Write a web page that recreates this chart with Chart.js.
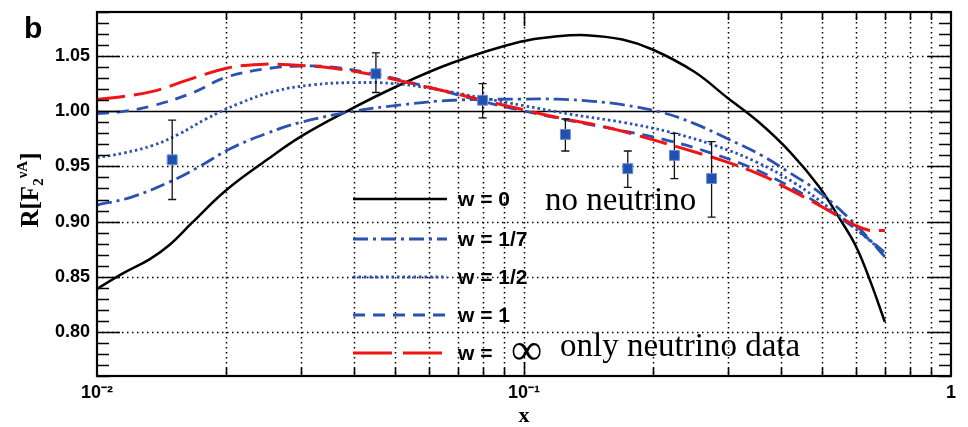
<!DOCTYPE html>
<html>
<head>
<meta charset="utf-8">
<script src="https://cdn.jsdelivr.net/npm/chart.js@4/dist/chart.umd.min.js"></script>
<style>
  html, body { margin: 0; padding: 0; background: #fff; }
  #wrap { width: 968px; height: 427px; }
</style>
</head>
<body>
<div id="wrap"><canvas id="chart"></canvas></div>
<script>
// w = 0 (no neutrino)
const xW0 = [0.01, 0.0115, 0.0133, 0.0148, 0.0167, 0.020, 0.025, 0.030, 0.038, 0.050, 0.068, 0.098, 0.12, 0.14, 0.17, 0.20, 0.25, 0.30, 0.355, 0.42, 0.49, 0.55, 0.60, 0.65, 0.70];
const yW0 = [0.839, 0.853, 0.866, 0.879, 0.899, 0.928, 0.956, 0.977, 0.999, 1.022, 1.044, 1.063, 1.068, 1.069, 1.065, 1.056, 1.036, 1.012, 0.990, 0.963, 0.932, 0.902, 0.877, 0.844, 0.809];
// w = 1/7
const xW17 = [0.01, 0.012, 0.0148, 0.0174, 0.0205, 0.025, 0.030, 0.040, 0.052, 0.068, 0.098, 0.12, 0.145, 0.17, 0.21, 0.25, 0.30, 0.36, 0.42, 0.49, 0.57, 0.63, 0.70];
const yW17 = [0.915, 0.922, 0.936, 0.950, 0.966, 0.980, 0.990, 1.000, 1.006, 1.010, 1.011, 1.011, 1.009, 1.006, 0.999, 0.989, 0.975, 0.960, 0.944, 0.927, 0.905, 0.888, 0.868];
// w = 1/2
const xW12 = [0.01, 0.0115, 0.0135, 0.0155, 0.018, 0.0215, 0.026, 0.032, 0.040, 0.050, 0.062, 0.080, 0.10, 0.13, 0.17, 0.22, 0.28, 0.35, 0.43, 0.52, 0.60, 0.70];
const yW12 = [0.958, 0.962, 0.969, 0.979, 0.993, 1.007, 1.018, 1.024, 1.026, 1.025, 1.020, 1.012, 1.005, 0.997, 0.990, 0.981, 0.969, 0.954, 0.935, 0.912, 0.893, 0.871];
// w = 1
const xW1 = [0.01, 0.0113, 0.0135, 0.0168, 0.0201, 0.0254, 0.0299, 0.0357, 0.0444, 0.057, 0.0683, 0.0817, 0.098, 0.13, 0.177, 0.22, 0.27, 0.33, 0.40, 0.50, 0.60, 0.70];
const yW1 = [0.998, 0.9995, 1.005, 1.017, 1.031, 1.039, 1.041, 1.040, 1.034, 1.024, 1.016, 1.008, 1.001, 0.991, 0.981, 0.973, 0.963, 0.951, 0.936, 0.914, 0.893, 0.872];
// w = infinity (only neutrino data)
const xInf = [0.01, 0.0113, 0.0135, 0.0162, 0.0201, 0.0241, 0.0288, 0.0358, 0.0444, 0.0522, 0.0625, 0.0803, 0.098, 0.121, 0.15, 0.177, 0.232, 0.304, 0.37, 0.40, 0.48, 0.55, 0.60, 0.646, 0.70];
const yInf = [1.011, 1.013, 1.018, 1.028, 1.039, 1.0425, 1.042, 1.039, 1.033, 1.027, 1.020, 1.010, 1.002, 0.994, 0.987, 0.980, 0.967, 0.953, 0.940, 0.933, 0.917, 0.904, 0.896, 0.892, 0.892];

// measured points with error bars
const xData = [0.015, 0.045, 0.080, 0.125, 0.175, 0.225, 0.275];
const yData = [0.956, 1.034, 1.010, 0.979, 0.948, 0.960, 0.939];
const errHi = [0.992, 1.053, 1.025, 0.993, 0.964, 0.980, 0.9725];
const errLo = [0.920, 1.017, 0.994, 0.964, 0.931, 0.939, 0.904];

const seriesNames = ['w = 0', 'w = 1/7', 'w = 1/2', 'w = 1', 'w ='];
const yMajor = [0.80, 0.85, 0.90, 0.95, 1.00, 1.05];
const xGrid = [0.02, 0.03, 0.04, 0.05, 0.06, 0.07, 0.08, 0.09, 0.1, 0.2, 0.3, 0.4, 0.5, 0.6, 0.7, 0.8, 0.9];
const xDecades = [0.01, 0.1, 1];

const blue = '#2a52b0';
const red = '#f01414';

const styles = [
    { color: '#000', dash: [], width: 2.5 },
    { color: blue, dash: [15, 5, 3, 5], width: 2.8 },
    { color: blue, dash: [2.5, 3], width: 2.8 },
    { color: blue, dash: [12, 8], width: 2.8 },
    { color: red, dash: [28, 9], width: 3 }
];

function pts(xs, ys) {
    return xs.map((x, i) => ({ x, y: ys[i] }));
}

function curve(i, xs, ys) {
    const s = styles[i];
    return {
        type: 'line',
        label: seriesNames[i],
        data: pts(xs, ys),
        borderColor: s.color,
        borderDash: s.dash,
        borderWidth: s.width,
        pointRadius: 0,
        tension: 0.4,
        fill: false
    };
}

const frame = {
    id: 'frame',
    beforeDatasetsDraw(chart) {
        const { ctx, chartArea: a, scales: { x, y } } = chart;
        ctx.save();
        ctx.strokeStyle = '#000';
        ctx.lineWidth = 1.5;
        ctx.setLineDash([1.5, 3.5]);
        ctx.beginPath();
        xGrid.forEach(v => {
            const px = Math.round(x.getPixelForValue(v)) + 0.5;
            ctx.moveTo(px, a.top);
            ctx.lineTo(px, a.bottom);
        });
        yMajor.filter(v => v !== 1.00).forEach(v => {
            const py = Math.round(y.getPixelForValue(v)) + 0.5;
            ctx.moveTo(a.left, py);
            ctx.lineTo(a.right, py);
        });
        ctx.stroke();
        ctx.setLineDash([]);
        ctx.lineWidth = 1.3;
        ctx.beginPath();
        const p1 = Math.round(y.getPixelForValue(1.00)) + 0.5;
        ctx.moveTo(a.left, p1);
        ctx.lineTo(a.right, p1);
        ctx.stroke();
        ctx.restore();
    },
    beforeDatasetDraw(chart, args) {
        if (args.index !== 0) return;
        const { ctx, scales: { x, y } } = chart;
        ctx.save();
        ctx.strokeStyle = '#111';
        ctx.lineWidth = 1.3;
        ctx.beginPath();
        xData.forEach((v, i) => {
            const px = x.getPixelForValue(v);
            const top = y.getPixelForValue(errHi[i]);
            const bot = y.getPixelForValue(errLo[i]);
            ctx.moveTo(px, top);
            ctx.lineTo(px, bot);
            ctx.moveTo(px - 4, top);
            ctx.lineTo(px + 4, top);
            ctx.moveTo(px - 4, bot);
            ctx.lineTo(px + 4, bot);
        });
        ctx.stroke();
        ctx.restore();
    },
    afterDatasetsDraw(chart) {
        const { ctx, chartArea: a, scales: { x, y } } = chart;
        ctx.save();
        ctx.strokeStyle = '#000';
        ctx.lineWidth = 1.6;
        ctx.beginPath();
        // inward ticks on left and right
        for (let k = 76; k <= 109; k++) {
            const py = Math.round(y.getPixelForValue(k / 100)) + 0.5;
            const len = k % 5 === 0 ? 23 : 12;
            ctx.moveTo(a.left, py);
            ctx.lineTo(a.left + len, py);
            ctx.moveTo(a.right, py);
            ctx.lineTo(a.right - len, py);
        }
        // inward ticks on top and bottom
        xGrid.forEach(v => {
            const px = Math.round(x.getPixelForValue(v)) + 0.5;
            const len = xDecades.includes(v) ? 14 : 8;
            ctx.moveTo(px, a.bottom);
            ctx.lineTo(px, a.bottom - len);
            ctx.moveTo(px, a.top);
            ctx.lineTo(px, a.top + len);
        });
        ctx.stroke();
        ctx.lineWidth = 2.2;
        ctx.strokeRect(a.left, a.top, a.right - a.left, a.bottom - a.top);
        ctx.restore();
    },
    afterDraw(chart) {
        const { ctx } = chart;
        ctx.save();
        // panel letter
        ctx.fillStyle = '#000';
        ctx.font = 'bold 30px "Liberation Sans", Arial, sans-serif';
        ctx.textBaseline = 'alphabetic';
        ctx.textAlign = 'left';
        ctx.fillText('b', 24, 38);

        // y axis title R[F2^vA]
        ctx.translate(38, 190);
        ctx.rotate(-Math.PI / 2);
        const big = 'bold 25px "Liberation Serif", "Times New Roman", serif';
        const small = 'bold 15px "Liberation Serif", "Times New Roman", serif';
        ctx.font = big;
        const w1 = ctx.measureText('R[F').width;
        ctx.font = small;
        const w2 = ctx.measureText('2').width;
        const w3 = ctx.measureText('\u03bdA').width;
        ctx.font = big;
        const w4 = ctx.measureText(']').width;
        let cx = -(w1 + w2 + w3 + w4) / 2;
        ctx.fillText('R[F', cx, 0);
        cx += w1;
        ctx.font = small;
        ctx.fillText('2', cx, 5);
        cx += w2;
        ctx.fillText('\u03bdA', cx, -11);
        cx += w3;
        ctx.font = big;
        ctx.fillText(']', cx, 0);
        ctx.restore();

        // legend
        ctx.save();
        const rows = [199, 239, 277, 315, 353];
        rows.forEach((ry, i) => {
            const s = styles[i];
            ctx.strokeStyle = s.color;
            ctx.lineWidth = s.width;
            ctx.setLineDash(i === 4 ? [39, 11] : s.dash);
            ctx.beginPath();
            ctx.moveTo(353, ry);
            ctx.lineTo(447, ry);
            ctx.stroke();
            ctx.setLineDash([]);
            ctx.fillStyle = '#000';
            ctx.font = 'bold 21px "Liberation Sans", Arial, sans-serif';
            ctx.textBaseline = 'middle';
            ctx.fillText(seriesNames[i], 458, ry + 1);
        });
        ctx.textBaseline = 'alphabetic';
        ctx.font = '33px "Liberation Serif", "Times New Roman", serif';
        ctx.fillText('no neutrino', 545, 210);
        ctx.fillText('only neutrino data', 560, 356);
        ctx.font = '44px "Liberation Serif", "Times New Roman", serif';
        ctx.fillText('\u221e', 511, 364);
        ctx.restore();
    }
};

new Chart(document.getElementById('chart'), {
    type: 'line',
    data: {
        datasets: [
            {
                type: 'scatter',
                label: 'data',
                data: pts(xData, yData),
                pointStyle: 'rect',
                pointRadius: 7,
                backgroundColor: '#2050b0',
                borderColor: '#6a8ed0',
                borderWidth: 1
            },
            curve(4, xInf, yInf),
            curve(3, xW1, yW1),
            curve(2, xW12, yW12),
            curve(1, xW17, yW17),
            curve(0, xW0, yW0)
        ]
    },
    options: {
        responsive: true,
        maintainAspectRatio: false,
        animation: false,
        devicePixelRatio: 1,
        layout: { padding: { left: 0, right: 17, top: 12, bottom: 0 } },
        plugins: {
            legend: { display: false },
            tooltip: { enabled: false }
        },
        scales: {
            x: {
                type: 'logarithmic',
                min: 0.01,
                max: 1,
                grid: { display: false, drawTicks: false },
                border: { display: false },
                afterFit: (scale) => {
                    scale.height = 51;
                    scale.paddingLeft = 0;
                    scale.paddingRight = 0;
                },
                ticks: {
                    autoSkip: false,
                    maxRotation: 0,
                    padding: 6,
                    color: '#000',
                    font: { family: '"Liberation Sans", Arial, sans-serif', weight: 'bold', size: 18 },
                    callback: (v) => {
                        const e = Math.log10(v);
                        if (Math.abs(e - Math.round(e)) > 1e-6) return '';
                        const n = Math.round(e);
                        if (n === 0) return '1';
                        return n === -2 ? '10\u207b\u00b2' : '10\u207b\u00b9';
                    }
                },
                title: {
                    display: true,
                    text: 'x',
                    color: '#000',
                    padding: { top: 0, bottom: 0 },
                    font: { family: '"Liberation Serif", "Times New Roman", serif', weight: 'bold', size: 22, lineHeight: 1 }
                }
            },
            y: {
                type: 'linear',
                min: 0.76,
                max: 1.09,
                grid: { display: false, drawTicks: false },
                border: { display: false },
                afterFit: (scale) => {
                    scale.width = 97;
                    scale.paddingTop = 0;
                    scale.paddingBottom = 0;
                },
                ticks: {
                    stepSize: 0.01,
                    autoSkip: false,
                    padding: 7,
                    color: '#000',
                    font: { family: '"Liberation Sans", Arial, sans-serif', weight: 'bold', size: 18 },
                    callback: (v) => {
                        const k = Math.round(v * 100);
                        if (k % 5 !== 0 || k < 80 || k > 105) return '';
                        return (k / 100).toFixed(2);
                    }
                }
            }
        }
    },
    plugins: [frame]
});
</script>
</body>
</html>
